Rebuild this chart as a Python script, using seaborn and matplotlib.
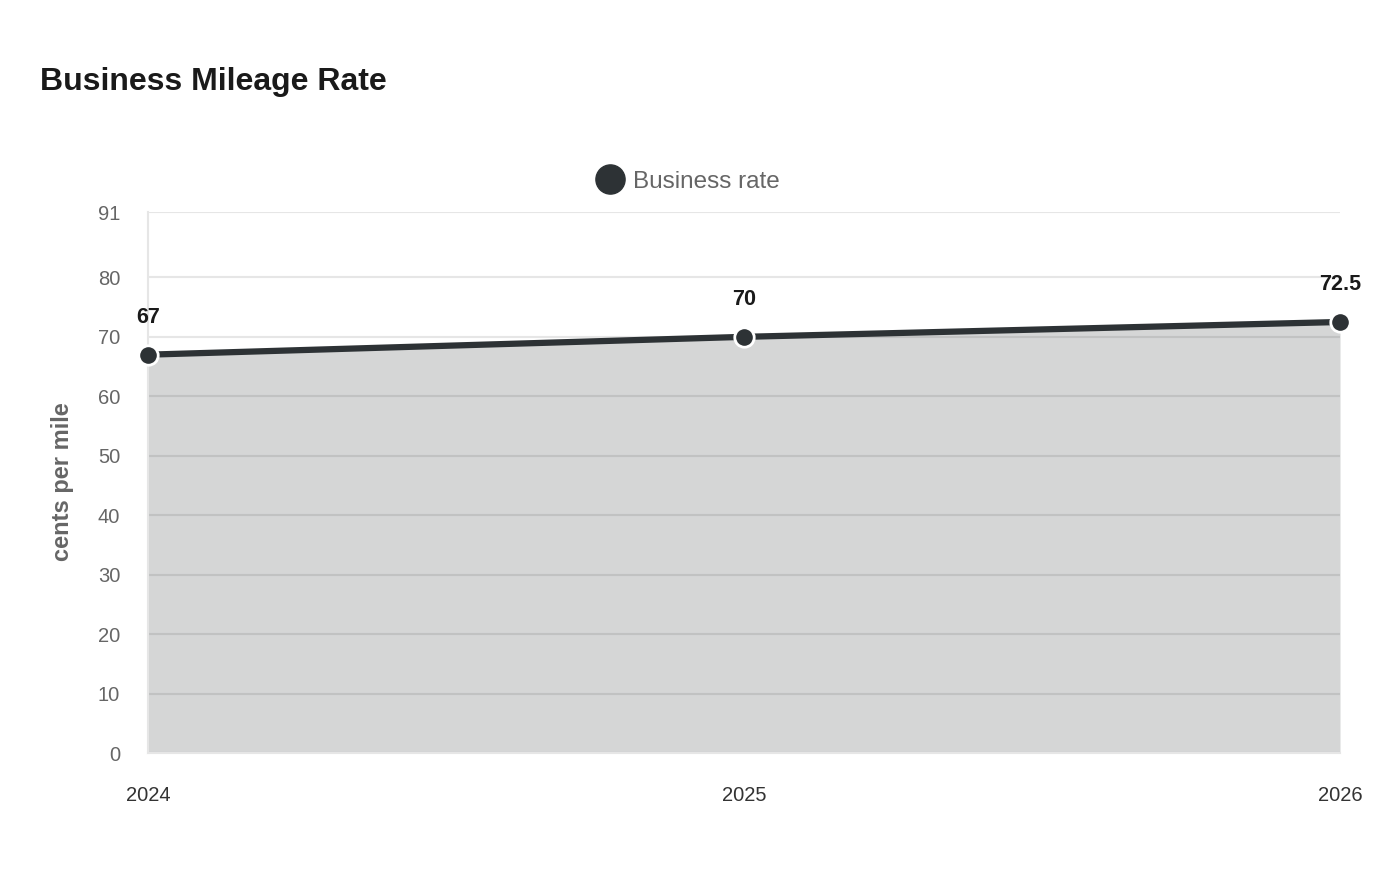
import matplotlib
matplotlib.use("Agg")
import matplotlib.pyplot as plt
from matplotlib.lines import Line2D
import seaborn as sns
import pandas as pd

years = [2024, 2025, 2026]
year_labels = ["2024", "2025", "2026"]
rates = [67, 70, 72.5]
rate_labels = ["67", "70", "72.5"]
y_ticks = [0, 10, 20, 30, 40, 50, 60, 70, 80, 91]
series_name = "Business rate"

LINE = "#2d3235"
GRID = "#e6e6e6"

sns.set_theme(style="white")
plt.rcParams['font.family'] = ['Liberation Sans', 'DejaVu Sans']

df = pd.DataFrame({"year": years, "rate": rates})

fig = plt.figure(figsize=(14, 8.8), dpi=100)
ax = fig.add_axes([148/1400, 1-753/880, (1340-148)/1400, (753-212)/880])

ax.set_ylim(0, 91)
ax.set_xlim(years[0], years[-1])
ax.set_yticks(y_ticks)
ax.set_yticklabels([str(t) for t in y_ticks])
ax.set_xticks(years)
ax.set_xticklabels(year_labels)
ax.grid(axis="y", color=GRID, linewidth=1.5, zorder=0)
ax.set_axisbelow(True)
for s in ["top", "right"]:
    ax.spines[s].set_visible(False)
ax.spines["left"].set_color(GRID)
ax.spines["left"].set_linewidth(1.5)
ax.spines["bottom"].set_color(GRID)
ax.spines["bottom"].set_linewidth(1.5)

ax.fill_between(df["year"], df["rate"], 0, color=LINE, alpha=0.2, linewidth=0, zorder=1)
sns.lineplot(data=df, x="year", y="rate", ax=ax, color=LINE, linewidth=4.5,
             marker="o", markersize=14, markeredgecolor="white", markeredgewidth=2,
             markerfacecolor=LINE, zorder=3, clip_on=False, legend=False)
for l in ax.lines:
    l.set_clip_on(False)

for x, y, lab in zip(years, rates, rate_labels):
    ax.annotate(lab, (x, y), xytext=(0, 27), textcoords="offset points",
                ha="center", va="center", fontsize=15.5, fontweight="bold", color="#1a1a1a")

ax.set_xlabel("")
ax.set_ylabel("")
ax.tick_params(axis="y", length=11, width=1.5, color=GRID, pad=9, labelsize=14.5, labelcolor="#666666")
ax.tick_params(axis="x", length=0, pad=24, labelsize=14.5, labelcolor="#333333")

fig.text(40/1400, 1-82/880, "Business Mileage Rate", fontsize=23, fontweight="bold",
         color="#1a1a1a", ha="left", va="center")
fig.text(63/1400, 1-482/880, "cents per mile", rotation=90, fontsize=17, fontweight="bold",
         color="#666666", ha="center", va="center")

handle = Line2D([], [], linestyle="none", marker="o", markersize=21, markerfacecolor=LINE,
                markeredgecolor=LINE)
fig.legend([handle], [series_name], loc="center", bbox_to_anchor=(688/1400, 1-182/880),
           frameon=False, fontsize=17.5, labelcolor="#666666", handletextpad=0.35,
           handlelength=1.2)

fig.savefig("out.png", dpi=100, facecolor="white")
